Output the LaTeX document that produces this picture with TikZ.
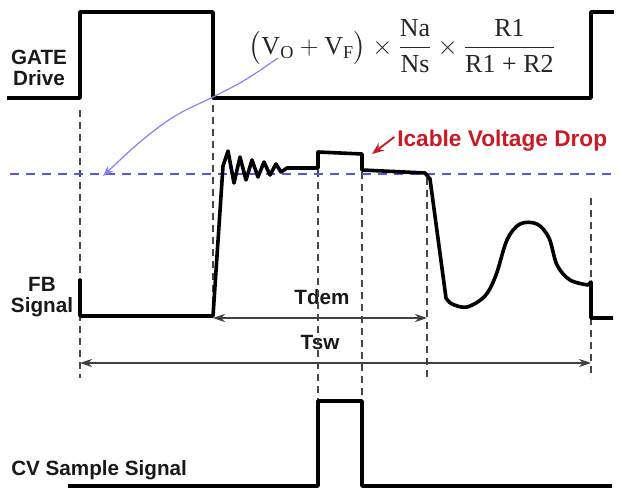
\RequirePackage{fix-cm}
\documentclass[tikz,border=0pt]{standalone}
\usepackage{fontspec}
\usepackage{amsmath}
\setmainfont{Liberation Sans}
\newfontfamily\tms{Liberation Serif}
\usetikzlibrary{arrows.meta}
\definecolor{guide}{RGB}{70,70,70}
\definecolor{refblue}{RGB}{85,85,225}
\definecolor{curveblue}{RGB}{135,130,240}
\definecolor{dropred}{RGB}{205,25,35}
\newcommand{\tm}[1]{\text{\tms #1}}
\begin{document}
\begin{tikzpicture}[x=0.75pt,y=-0.75pt,line join=round,
  sigline/.style={line width=2.7pt},
  guideline/.style={guide,line width=0.9pt,dash pattern=on 5.5pt off 3.5pt},
  refline/.style={refblue,line width=0.9pt,dash pattern=on 7pt off 5pt},
  dimarrow/.style={line width=0.8pt,draw=black!75,{Stealth[length=9pt,width=6pt]}-{Stealth[length=9pt,width=6pt]}},
  lbl/.style={font=\fontsize{15.5}{16}\selectfont\bfseries,text=black!90,inner sep=0pt,align=center}]
\useasboundingbox (0,0) rectangle (622,489);

% labels
\node[lbl] (gate) at (39,68) {GATE\\Drive};
\node[lbl] (fb) at (42,297) {FB\\Signal};
\node[lbl,anchor=west] (cv) at (11,470) {CV Sample Signal};
\node[lbl] (tdem) at (322,297) {Tdem};
\node[lbl] (tsw) at (320,342) {Tsw};
\node[lbl,anchor=west,text=dropred,font=\fontsize{17}{18}\selectfont\bfseries] (icable) at (397,141) {Icable Voltage Drop};
\node[inner sep=0pt,text=black!85] (formula) at (402,46)
  {\fontsize{19.5}{22}\selectfont$\displaystyle \bigl(\tm{V}_{\tm{O}} + \tm{V}_{\tm{F}}\bigr)\times\frac{\tm{Na}}{\tm{Ns}}\times\frac{\tm{R1}}{\tm{R1 + R2}}$};

% guide lines
\draw[guideline] (80,110) -- (80,378);
\draw[guideline] (213,105) -- (213,316);
\draw[guideline] (318,170) -- (318,400);
\draw[guideline] (362,172) -- (362,400);
\draw[guideline] (427,178) -- (427,378);
\draw[guideline] (591,198) -- (591,378);
\draw[refline] (10,174) -- (612,174);

% GATE drive
\draw[sigline] (7,98) -- (80,98) -- (80,12) -- (213,12) -- (213,98) -- (591,98) -- (591,12) -- (614,12);

% FB signal
\draw[sigline] (80,279) -- (80,316) -- (213,316) -- (223,166) -- (228,151) -- (234,183) -- (240,157) -- (246,180)
  -- (252,160) -- (258,177) -- (264,162) -- (270,175) -- (276,164) -- (281,172) -- (287,168) -- (318,168)
  -- (318,152) -- (362,154) -- (362,170) -- (425,173) -- (430,179) -- (446,298)
  -- plot[smooth,tension=0.55] coordinates {(446,298) (452,304) (467,307) (485,296) (496,275) (507,240) (520,224) (537,224) (549,238) (557,265) (570,280) (588,285)}
  -- (591,282) -- (591,318) -- (613,318);

% CV sample signal
\draw[sigline] (68,486) -- (318,486) -- (318,401) -- (362,401) -- (362,486) -- (612,486);

% time arrows
\coordinate (tdemL) at (213,318);
\coordinate (tdemR) at (427,318);
\coordinate (tswL) at (80,363);
\coordinate (tswR) at (591,363);
\draw[dimarrow] (tdemL) -- (tdemR);
\draw[dimarrow] (tswL) -- (tswR);

% blue formula pointer
\coordinate (vo) at (278,58);
\coordinate (reftip) at (103,176);
\draw[curveblue,line width=0.9pt,-{Stealth[length=8pt,width=6pt]}] plot[smooth,tension=0.6] coordinates {(vo) (245,80) (213,97) (175,116) (140,142) (reftip)};

% red pointer
\coordinate (droptip) at (372,154);
\draw[dropred,line width=1.4pt,-{Stealth[length=9pt,width=7pt]}] (icable.west) ++(-2pt,3pt) coordinate (droptail) (droptail) -- (droptip);
\end{tikzpicture}
\end{document}
